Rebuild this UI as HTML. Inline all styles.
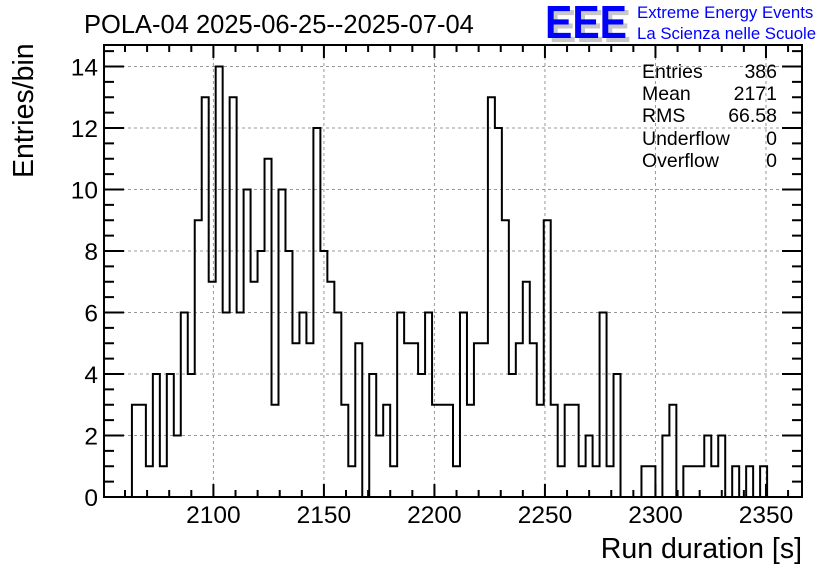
<!DOCTYPE html>
<html><head><meta charset="utf-8"><style>
html,body{margin:0;padding:0;background:#fff;}
svg{display:block;font-family:"Liberation Sans",Arial,sans-serif;}
</style></head><body>
<svg id="chart" width="836" height="572" viewBox="0 0 836 572" xmlns="http://www.w3.org/2000/svg">
<rect x="0" y="0" width="836" height="572" fill="#fff"/>
<text x="84" y="33" font-size="25.5" fill="#000">POLA-04 2025-06-25--2025-07-04</text>
<g>
<text x="549" y="42" font-size="46" font-weight="bold" fill="#c8c8c8" textLength="82" lengthAdjust="spacingAndGlyphs">EEE</text>
<text x="545" y="38" font-size="46" font-weight="bold" fill="#0000ff" textLength="82" lengthAdjust="spacingAndGlyphs">EEE</text>
<text x="637" y="18" font-size="16.8" fill="#0000ff">Extreme Energy Events</text>
<text x="637" y="39" font-size="16.8" fill="#0000ff">La Scienza nelle Scuole</text>
</g>
<g id="grid"></g>
<g id="ticks"></g>
<path id="hist" fill="none" stroke="#000" stroke-width="2"/>
<rect x="104" y="45" width="698" height="452" fill="none" stroke="#000" stroke-width="2"/>
<g id="labels" font-size="24.5" fill="#000"></g>
<text x="802" y="558" font-size="28.5" text-anchor="end">Run duration [s]</text>
<text transform="translate(33,178) rotate(-90)" font-size="28.5">Entries/bin</text>
<g font-size="19.5" fill="#000">
<text x="642" y="78">Entries</text><text x="777" y="78" text-anchor="end">386</text>
<text x="642" y="100">Mean</text><text x="777" y="100" text-anchor="end">2171</text>
<text x="642" y="122">RMS</text><text x="777" y="122" text-anchor="end">66.58</text>
<text x="642" y="145">Underflow</text><text x="777" y="145" text-anchor="end">0</text>
<text x="642" y="167">Overflow</text><text x="777" y="167" text-anchor="end">0</text>
</g>
</svg>
<script>
const xMin = 2050.5;
const binWidth = 3.158;
const counts = [0,0,0,0,3,3,1,4,1,4,2,6,4,9,13,7,14,6,13,6,10,7,8,11,3,10,8,5,6,5,12,8,7,6,3,1,5,0,4,2,3,1,6,5,5,4,6,3,3,3,1,6,3,5,5,13,12,9,4,5,7,5,3,9,3,1,3,3,1,2,1,6,1,4,0,0,0,1,1,0,2,3,0,1,1,1,2,1,2,0,1,0,1,0,1,0,0,0,0,0];
const xTicks = [2100,2150,2200,2250,2300,2350];
const yTicks = [0,2,4,6,8,10,12,14];
const yMax = 14.7;
const PL=104, PR=802, PT=45, PB=497;
const xMax = xMin + binWidth*counts.length;
function xs(v){return PL+(v-xMin)/(xMax-xMin)*(PR-PL);}
function ys(v){return PB-v/yMax*(PB-PT);}
const NS="http://www.w3.org/2000/svg";
function mk(tag,attrs,parent){const e=document.createElementNS(NS,tag);for(const k in attrs)e.setAttribute(k,attrs[k]);parent.appendChild(e);return e;}
const grid=document.getElementById('grid'), ticks=document.getElementById('ticks'), labels=document.getElementById('labels');
xTicks.forEach(t=>{
  const x=xs(t);
  const g=mk('line',{x1:x,x2:x,y1:PT,y2:PB,stroke:'#999','stroke-dasharray':'3,3','stroke-width':1},grid);
  
  
  const l=mk('text',{x:x,y:523,'text-anchor':'middle'},labels);
  
  
  l.textContent=t;
});
yTicks.forEach(t=>{
  const y=ys(t);
  if(t>0){const g=mk('line',{x1:PL,x2:PR,y1:y,y2:y,stroke:'#999','stroke-dasharray':'3,3','stroke-width':1},grid);
  
  }
  const l=mk('text',{x:98,y:y+9,'text-anchor':'end'},labels);
  
  
  l.textContent=t;
});
let tp='';
for(let v=2060; v<xMax; v+=10){
  const x=xs(v); const L=(v%50===0)?13:7;
  tp+=`M${x},${PB}V${PB-L}M${x},${PT}V${PT+L}`;
}
for(let v=0; v<=yMax; v+=0.5){
  const y=ys(v); const L=(v%2===0)?20:10;
  tp+=`M${PL},${y}H${PL+L}M${PR},${y}H${PR-L}`;
}
mk('path',{d:tp,stroke:'#000','stroke-width':2,fill:'none'},ticks);
let d=`M${xs(xMin)},${ys(0)}`;
counts.forEach((c,i)=>{
  const x0=xs(xMin+i*binWidth), x1=xs(xMin+(i+1)*binWidth);
  d+=`L${x0},${ys(c)}L${x1},${ys(c)}`;
});
d+=`L${xs(xMax)},${ys(0)}`;
document.getElementById('hist').setAttribute('d',d);
</script>
</body></html>
